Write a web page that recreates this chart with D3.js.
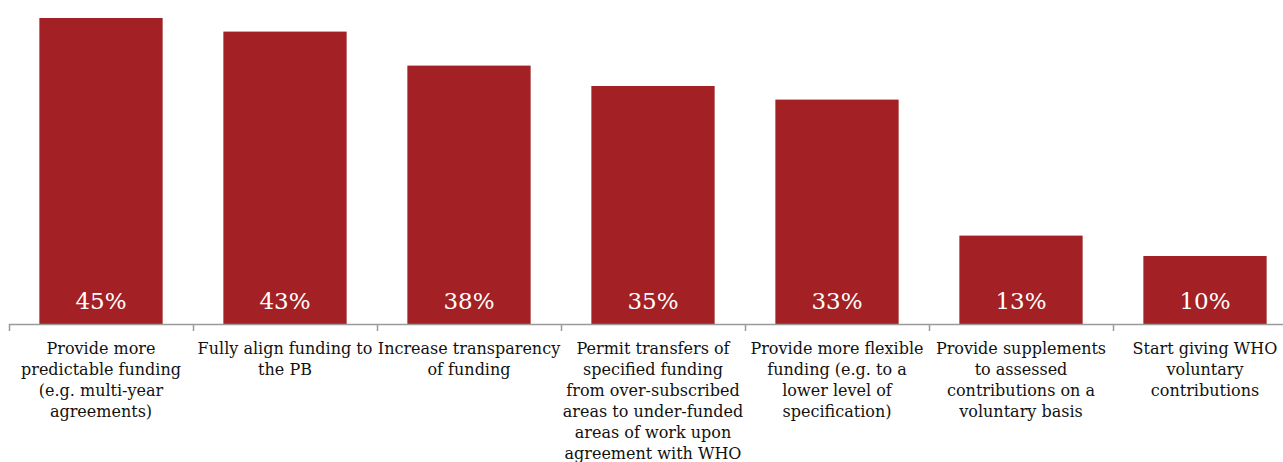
<!DOCTYPE html>
<html>
<head>
<meta charset="utf-8">
<script src="https://cdn.jsdelivr.net/npm/d3@7/dist/d3.min.js"></script>
<style>
  html, body { margin: 0; padding: 0; background: #ffffff; }
  svg { display: block; }
</style>
</head>
<body>
<svg id="chart" width="1283" height="462"></svg>
<script>
// Share of respondents choosing each funding measure
const categories = [
  "Provide more predictable funding (e.g. multi-year agreements)",
  "Fully align funding to the PB",
  "Increase transparency of funding",
  "Permit transfers of specified funding from over-subscribed areas to under-funded areas of work upon agreement with WHO",
  "Provide more flexible funding (e.g. to a lower level of specification)",
  "Provide supplements to assessed contributions on a voluntary basis",
  "Start giving WHO voluntary contributions"
];
const values = [45, 43, 38, 35, 33, 13, 10];
// Axis labels, broken into lines
const labelLines = [
  ["Provide more", "predictable funding", "(e.g. multi-year", "agreements)"],
  ["Fully align funding to", "the PB"],
  ["Increase transparency", "of funding"],
  ["Permit transfers of", "specified funding", "from over-subscribed", "areas to under-funded", "areas of work upon", "agreement with WHO"],
  ["Provide more flexible", "funding (e.g. to a", "lower level of", "specification)"],
  ["Provide supplements", "to assessed", "contributions on a", "voluntary basis"],
  ["Start giving WHO", "voluntary", "contributions"]
];

const svg = d3.select("#chart");
const serif = "'DejaVu Serif', 'Liberation Serif', serif";

const x = d3.scaleBand()
  .domain(categories)
  .range([9, 1297])
  .paddingInner(0.33)
  .paddingOuter(0.165);

const y = d3.scaleLinear()
  .domain([0, 45])
  .range([324, 18]);

// Bars
svg.append("g")
  .selectAll("rect")
  .data(values)
  .join("rect")
  .attr("x", (d, i) => x(categories[i]))
  .attr("y", d => y(d))
  .attr("width", x.bandwidth())
  .attr("height", d => y(0) - y(d))
  .attr("fill", "#a32024");

// Value labels inside bars
svg.append("g")
  .selectAll("text")
  .data(values)
  .join("text")
  .attr("x", (d, i) => x(categories[i]) + x.bandwidth() / 2)
  .attr("y", y(0) - 15)
  .attr("text-anchor", "middle")
  .attr("fill", "#ffffff")
  .style("font-family", serif)
  .style("font-size", "23px")
  .text(d => d + "%");

// Category axis with ticks between bands
const axis = svg.append("g");
axis.append("line")
  .attr("x1", x.range()[0]).attr("x2", x.range()[1])
  .attr("y1", y(0) + 0.5).attr("y2", y(0) + 0.5)
  .attr("stroke", "#9a9a9a").attr("stroke-width", 1.5);
const boundaries = categories.map(c => x(c) - x.step() * x.paddingOuter());
axis.selectAll("line.tick")
  .data(boundaries)
  .join("line")
  .attr("class", "tick")
  .attr("x1", d => Math.round(d) + 0.5).attr("x2", d => Math.round(d) + 0.5)
  .attr("y1", y(0)).attr("y2", y(0) + 7)
  .attr("stroke", "#9a9a9a").attr("stroke-width", 1.5);

const lab = svg.append("g")
  .style("font-family", serif)
  .style("font-size", "16px")
  .attr("fill", "#111111");
lab.selectAll("text")
  .data(labelLines)
  .join("text")
  .attr("text-anchor", "middle")
  .attr("x", (d, i) => x(categories[i]) + x.bandwidth() / 2)
  .attr("y", 354)
  .each(function(lines, i) {
    const t = d3.select(this);
    const cx = x(categories[i]) + x.bandwidth() / 2;
    lines.forEach((ln, k) => {
      t.append("tspan").attr("x", cx).attr("y", 354 + k * 21).text(ln);
    });
  });
</script>
</body>
</html>
